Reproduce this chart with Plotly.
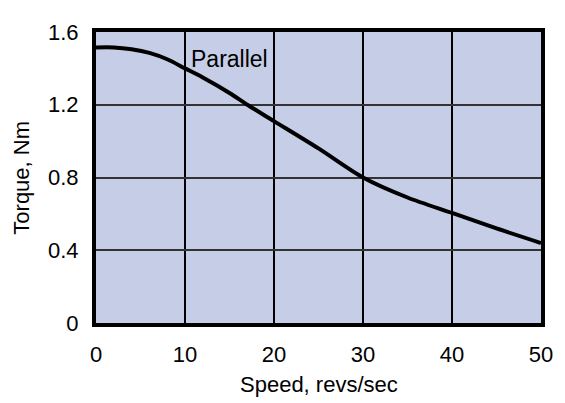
import plotly.graph_objects as go

speed = [0, 2, 4, 6, 8, 10, 12, 15, 17, 20, 25, 30, 35, 40, 45, 50]
torque = [1.515, 1.515, 1.505, 1.485, 1.45, 1.40, 1.35, 1.265, 1.20, 1.11, 0.96, 0.80, 0.69, 0.605, 0.52, 0.44]
x_ticks = [0, 10, 20, 30, 40, 50]
y_ticks = [0, 0.4, 0.8, 1.2, 1.6]
y_tick_text = ["0", "0.4", "0.8", "1.2", "1.6"]
label = "Parallel"
x_title = "Speed, revs/sec"
y_title = "Torque, Nm"

PLOT_W, PLOT_H = 452, 301

fig = go.Figure()
fig.add_trace(go.Scatter(x=speed, y=torque, mode="lines", line=dict(color="black", width=4, shape="spline", smoothing=0.8),
                         showlegend=False, hoverinfo="skip"))
fig.add_annotation(x=10.5, y=1.45, xanchor="left", yanchor="middle", text=label, showarrow=False,
                   font=dict(size=23, color="black"))
fig.add_annotation(xref="paper", yref="paper", x=0.5, y=-(387 - 323) / PLOT_H, xanchor="center", yanchor="middle",
                   text=x_title, showarrow=False, font=dict(size=22, color="black"))
fig.add_annotation(xref="paper", yref="paper", x=(20 - 96) / PLOT_W, y=0.5, xanchor="center", yanchor="middle",
                   text=y_title, textangle=-90, showarrow=False, font=dict(size=22, color="black"))

fig.update_layout(
    width=557, height=395,
    margin=dict(l=88, r=17, t=14, b=80),
    paper_bgcolor="white",
    plot_bgcolor="#C5CEE6",
    font=dict(family="Liberation Sans, Arial, sans-serif", size=22, color="black"),
    xaxis=dict(range=[0, 50], tickvals=x_ticks, showgrid=True, gridcolor="black", gridwidth=1.5,
               showline=True, linecolor="black", linewidth=4, mirror=True, zeroline=False,
               ticks="outside", ticklen=9, tickcolor="rgba(0,0,0,0)"),
    yaxis=dict(range=[0, 1.6], tickvals=y_ticks, ticktext=y_tick_text, showgrid=True, gridcolor="#333", gridwidth=1.8,
               showline=True, linecolor="black", linewidth=4, mirror=True, zeroline=False,
               ticks="outside", ticklen=9, tickcolor="rgba(0,0,0,0)"),
)
fig.write_html("out.html")
